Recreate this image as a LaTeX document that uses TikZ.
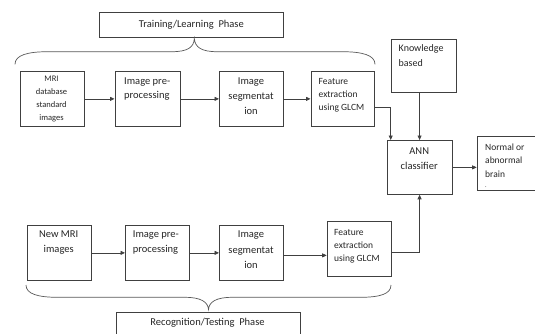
\documentclass[tikz,border=0pt]{standalone}
\usepackage{fontspec}
\setmainfont{Carlito}
\usetikzlibrary{arrows.meta,calc}
\begin{document}
\begin{tikzpicture}[x=1pt,y=-1pt,
  box/.style={draw=black!75, line width=0.75pt, anchor=north west, inner sep=0pt, minimum width=64pt, minimum height=55pt},
  txt/.style={inner sep=0pt, anchor=north, align=center, text=black!85},
  ltxt/.style={inner sep=0pt, anchor=north west, align=left, text=black!85},
  arr/.style={draw=black!75, line width=0.75pt, -{Triangle[length=4.5pt,width=4pt]}},
  bracepath/.style={draw=black!65, line width=0.7pt},
  fA/.style={font=\fontsize{10.5}{14.5}\selectfont},
  fB/.style={font=\fontsize{9.5}{13}\selectfont},
  fC/.style={font=\fontsize{8.5}{13}\selectfont}
]
\clip (0,0) rectangle (535,333);
\fill[white] (0,0) rectangle (535,333);

% phase boxes
\node[box, minimum width=184pt, minimum height=25pt] (train) at (99,12) {};
\node[fA, inner sep=0pt, text=black!85] (traint) at (train.center) {Training/Learning\ \ Phase};
\node[box, minimum width=184pt, minimum height=40pt] (recog) at (115.7,312) {};
\node[fA, inner sep=0pt, text=black!85, anchor=north] (recogt) at (207.5,318.5) {Recognition/Testing\ \ Phase};

% braces
\draw[bracepath] (15,64.3) .. controls (15,55) and (28,51.7) .. (48,51.7) -- (172,51.7)
  .. controls (188,51.7) and (194,47) .. (194.3,38.5)
  .. controls (195,47) and (201,51.7) .. (217,51.7) -- (342,51.7)
  .. controls (362,51.7) and (375,55) .. (375,64.3);
\draw[bracepath] (26,285) .. controls (26,294) and (38,297.3) .. (58,297.3) -- (185,297.3)
  .. controls (201,297.3) and (208,302) .. (208.5,309.5)
  .. controls (209,302) and (216,297.3) .. (232,297.3) -- (360,297.3)
  .. controls (380,297.3) and (391,294) .. (391,285);

% top row
\node[box] (mri) at (19.5,71) {};
\node[txt, fC] (mrit) at (51.5,76) {MRI\\database\\standard\\images};
\node[box, minimum width=65.5pt] (pre1) at (114.5,71) {};
\node[ltxt, fA] (pre1t) at (124,77.5) {Image pre-\\processing};
\node[box] (seg1) at (219,71) {};
\node[txt, font=\fontsize{10.5}{15}\selectfont] (seg1t) at (251,77.5) {Image\\segmentat\\ion};
\node[box, minimum width=63pt] (feat1) at (310.5,71) {};
\node[ltxt, fB] (feat1t) at (318.5,78) {Feature\\extraction\\using GLCM};

% knowledge, ANN, result
\node[box, minimum width=65pt, minimum height=53.5pt] (know) at (390.7,38.6) {};
\node[ltxt, font=\fontsize{10}{15}\selectfont] (knowt) at (398.5,44) {Knowledge\\based};
\node[box, minimum width=65pt, minimum height=54pt] (ann) at (386.7,140) {};
\node[txt, fA] (annt) at (419.2,148) {ANN\\classifier};
\node[box, minimum width=80pt, minimum height=54pt] (norm) at (476.7,136) {};
\node[ltxt, font=\fontsize{9.5}{13.5}\selectfont] (normt) at (485,143.5) {Normal or\\abnormal\\brain\\[-3pt]{\fontsize{6}{6}\selectfont .}};

% bottom row
\node[box] (new) at (26.7,225) {};
\node[txt, font=\fontsize{10.5}{15}\selectfont] (newt) at (58.7,231) {New MRI\\images};
\node[box] (pre2) at (125,225) {};
\node[ltxt, font=\fontsize{10.5}{15}\selectfont] (pre2t) at (132.7,231) {Image pre-\\processing};
\node[box] (seg2) at (219,225) {};
\node[txt, font=\fontsize{10.5}{15.5}\selectfont] (seg2t) at (251,231) {Image\\segmentat\\ion};
\node[box] (feat2) at (326.7,221) {};
\node[ltxt, fB] (feat2t) at (334,229) {Feature\\extraction\\using GLCM};

% connectors
\draw[arr] (mri.east) -- (pre1.west);
\draw[arr] (pre1.east) -- (seg1.west);
\draw[arr] (seg1.east) -- (feat1.west);
\draw[arr] ([yshift=-8.5pt]feat1.east) -| ([xshift=4pt]ann.north west);
\draw[arr] (ann.north |- know.south) -- (ann.north);
\draw[arr] (ann.east) -- (ann.east -| norm.west);
\draw[arr] (new.east) -- (pre2.west);
\draw[arr] (pre2.east) -- (seg2.west);
\draw[arr] ([yshift=-2.5pt]seg2.east) -- ([yshift=-2.5pt]seg2.east -| feat2.west);
\draw[arr] ([yshift=-3.5pt]feat2.east) -| (ann.south);
\end{tikzpicture}
\end{document}
